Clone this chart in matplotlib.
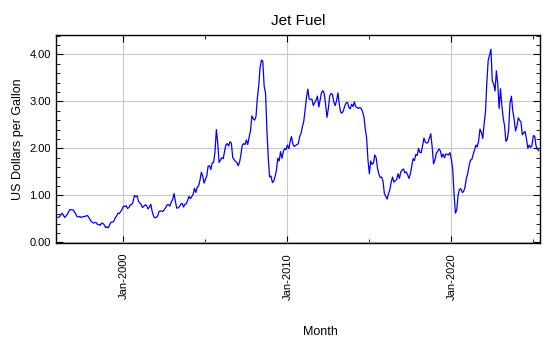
import numpy as np
import pandas as pd
import matplotlib
matplotlib.use("Agg")
import matplotlib.pyplot as plt
import matplotlib.dates as mdates
from matplotlib.ticker import MultipleLocator

plt.rcParams['font.family'] = ['Liberation Sans', 'DejaVu Sans']

# monthly jet fuel price, US dollars per gallon, Jan 1996 .. May 2025
start = "1996-01-01"
p1996 = [0.53, 0.54, 0.58, 0.62, 0.58, 0.53, 0.56, 0.60, 0.66, 0.70, 0.69, 0.69]
p1997 = [0.66, 0.60, 0.55, 0.54, 0.55, 0.53, 0.54, 0.55, 0.55, 0.57, 0.56, 0.51]
p1998 = [0.46, 0.43, 0.41, 0.42, 0.42, 0.38, 0.38, 0.36, 0.41, 0.40, 0.37, 0.31]
p1999 = [0.33, 0.31, 0.38, 0.43, 0.43, 0.45, 0.52, 0.56, 0.62, 0.61, 0.66, 0.70]
p2000 = [0.77, 0.76, 0.78, 0.72, 0.74, 0.80, 0.80, 0.86, 1.00, 0.97, 0.99, 0.87]
p2001 = [0.84, 0.80, 0.74, 0.77, 0.80, 0.78, 0.71, 0.75, 0.81, 0.66, 0.56, 0.52]
p2002 = [0.53, 0.56, 0.65, 0.67, 0.66, 0.66, 0.70, 0.74, 0.80, 0.80, 0.77, 0.86]
p2003 = [0.91, 1.04, 0.88, 0.73, 0.73, 0.76, 0.81, 0.83, 0.75, 0.81, 0.82, 0.89]
p2004 = [0.98, 0.93, 0.97, 1.02, 1.15, 1.06, 1.17, 1.20, 1.32, 1.49, 1.41, 1.26]
p2005 = [1.34, 1.42, 1.62, 1.63, 1.55, 1.69, 1.70, 1.92, 2.40, 2.12, 1.70, 1.75]
p2006 = [1.80, 1.78, 1.93, 2.07, 2.10, 2.05, 2.14, 2.11, 1.80, 1.76, 1.72, 1.70]
p2007 = [1.63, 1.71, 1.86, 2.07, 2.10, 2.08, 2.18, 2.08, 2.24, 2.37, 2.69, 2.63]
p2008 = [2.60, 2.68, 3.06, 3.32, 3.71, 3.88, 3.86, 3.32, 3.17, 2.40, 1.79, 1.39]
p2009 = [1.41, 1.27, 1.30, 1.40, 1.53, 1.79, 1.73, 1.93, 1.79, 1.93, 2.00, 1.97]
p2010 = [2.07, 1.99, 2.14, 2.25, 2.10, 2.04, 2.06, 2.08, 2.10, 2.25, 2.32, 2.46]
p2011 = [2.58, 2.83, 3.08, 3.26, 3.05, 3.04, 3.05, 2.91, 2.97, 3.03, 3.11, 2.88]
p2012 = [3.03, 3.19, 3.23, 3.16, 2.93, 2.66, 2.85, 3.12, 3.17, 3.14, 2.98, 2.91]
p2013 = [3.02, 3.18, 2.94, 2.77, 2.75, 2.80, 2.90, 2.97, 2.98, 2.87, 2.84, 2.94]
p2014 = [2.89, 2.99, 2.89, 2.87, 2.85, 2.87, 2.85, 2.78, 2.68, 2.42, 2.22, 1.75]
p2015 = [1.46, 1.73, 1.66, 1.68, 1.86, 1.80, 1.58, 1.45, 1.38, 1.39, 1.30, 1.04]
p2016 = [0.98, 0.92, 1.03, 1.12, 1.28, 1.39, 1.28, 1.31, 1.34, 1.46, 1.36, 1.50]
p2017 = [1.54, 1.56, 1.48, 1.50, 1.44, 1.36, 1.45, 1.61, 1.78, 1.74, 1.87, 1.85]
p2018 = [2.00, 1.91, 1.91, 2.06, 2.22, 2.13, 2.11, 2.13, 2.22, 2.31, 2.02, 1.67]
p2019 = [1.75, 1.90, 1.93, 1.99, 1.95, 1.81, 1.88, 1.80, 1.88, 1.87, 1.86, 1.91]
p2020 = [1.77, 1.56, 1.04, 0.62, 0.69, 1.01, 1.13, 1.14, 1.06, 1.08, 1.18, 1.36]
p2021 = [1.47, 1.63, 1.75, 1.76, 1.87, 1.96, 2.07, 2.03, 2.16, 2.41, 2.34, 2.21]
p2022 = [2.52, 2.79, 3.38, 3.87, 3.98, 4.11, 3.44, 3.37, 3.22, 3.65, 3.37, 2.85]
p2023 = [3.27, 2.90, 2.65, 2.48, 2.15, 2.19, 2.40, 2.97, 3.11, 2.80, 2.62, 2.37]
p2024 = [2.47, 2.65, 2.60, 2.56, 2.29, 2.33, 2.36, 2.20, 2.00, 2.07, 2.02, 2.06]
p2025 = [2.27, 2.26, 2.06, 1.98, 1.95]

price = (p1996 + p1997 + p1998 + p1999 + p2000 + p2001 + p2002 + p2003 + p2004
         + p2005 + p2006 + p2007 + p2008 + p2009 + p2010 + p2011 + p2012 + p2013
         + p2014 + p2015 + p2016 + p2017 + p2018 + p2019 + p2020 + p2021 + p2022
         + p2023 + p2024 + p2025)
months = pd.date_range(start, periods=len(price), freq="MS")

fig = plt.figure(figsize=(5.5, 3.5), dpi=100)
ax = fig.add_axes([0.101, 0.305, 0.881, 0.596])

ax.plot(months, price, color="blue", linewidth=0.9)

ax.set_xlim(pd.Timestamp("1995-11-10"), pd.Timestamp("2025-06-01"))
ax.set_ylim(-0.02, 4.42)

ax.xaxis.set_major_locator(mdates.YearLocator(10))
ax.xaxis.set_minor_locator(mdates.YearLocator(5))
ax.xaxis.set_major_formatter(mdates.DateFormatter("%b-%Y"))
ax.yaxis.set_major_locator(MultipleLocator(1))
ax.yaxis.set_minor_locator(MultipleLocator(0.2))
ax.yaxis.set_major_formatter(plt.FormatStrFormatter("%.2f"))

ax.tick_params(which="both", direction="in", top=True, right=True, labelsize=8)
ax.tick_params(which="major", length=5)
ax.tick_params(which="minor", length=3)
ax.tick_params(axis="x", pad=7)
for lab in ax.get_xticklabels():
    lab.set_rotation(90)

ax.grid(True, which="major", color="#c8c8c8", linewidth=0.8)
for s in ax.spines.values():
    s.set_linewidth(1.0)

ax.set_title("Jet Fuel", fontsize=11, pad=7)
ax.set_ylabel("US Dollars per Gallon", fontsize=9)
ax.set_xlabel("Month", fontsize=9)
ax.xaxis.set_label_coords(0.547, -0.395)

fig.savefig("out.png", dpi=100)
